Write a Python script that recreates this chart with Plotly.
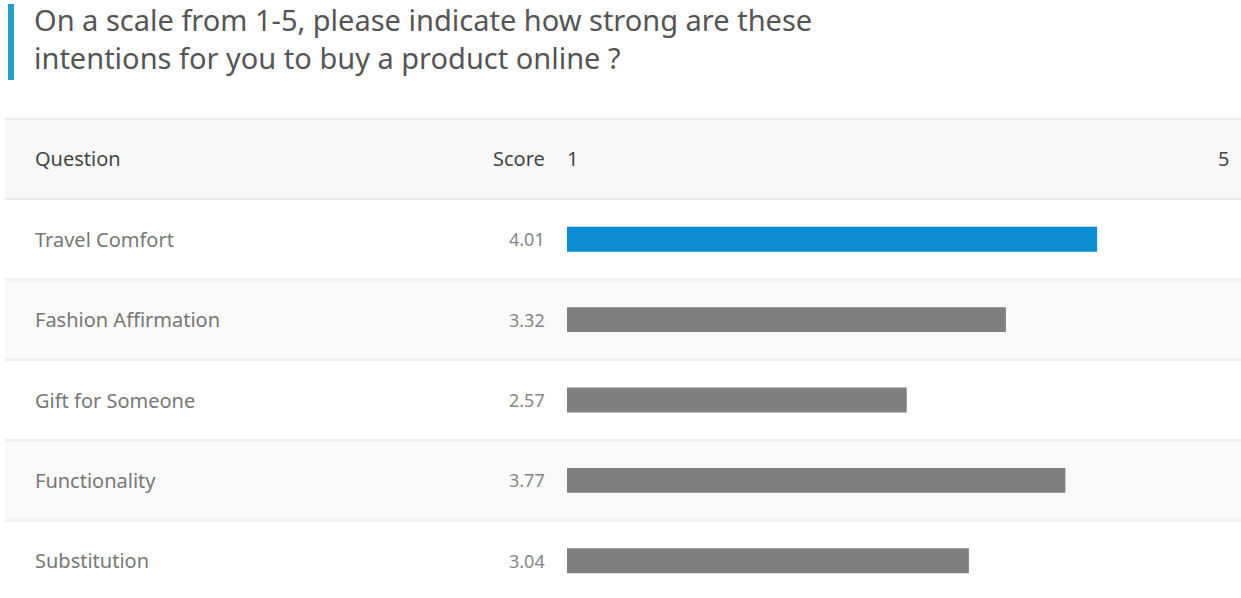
import plotly.graph_objects as go

# Survey results: intention strength on a 1-5 scale
questions = ["Travel Comfort", "Fashion Affirmation", "Gift for Someone",
             "Functionality", "Substitution"]
scores = [4.01, 3.32, 2.57, 3.77, 3.04]
score_labels = ["4.01", "3.32", "2.57", "3.77", "3.04"]
scale_ticks = ["1", "5"]

title_lines = ["On a scale from 1-5, please indicate how strong are these",
               "intentions for you to buy a product online ?"]

W, H = 1241, 598
FONT = "Noto Sans"
BLUE = "#0a8dd3"
GREY = "#7f7f7f"

def py(px):
    """Convert a pixel row (from top) to paper y."""
    return max(0.0, min(1.0, 1 - px / H))

def px_x(px):
    return px / W

colors = [BLUE] + [GREY] * (len(questions) - 1)

fig = go.Figure(go.Bar(
    x=scores, y=questions, orientation="h",
    marker=dict(color=colors, line=dict(width=0)),
    width=0.31, hoverinfo="x+y",
))

row_top = 199
row_h = 80.4
n = len(questions)

shapes = []
# header band
shapes.append(dict(type="rect", xref="paper", yref="paper",
                   x0=px_x(5), x1=1, y0=py(row_top), y1=py(119),
                   fillcolor="#f8f8f8", line=dict(width=0), layer="below"))
# alternating row bands
for i in range(n):
    if i % 2 == 1:
        shapes.append(dict(type="rect", xref="paper", yref="paper",
                           x0=px_x(5), x1=1,
                           y0=py(row_top + (i + 1) * row_h), y1=py(row_top + i * row_h),
                           fillcolor="#f9f9f9", line=dict(width=0), layer="below"))
# separators
sep_rows = [119] + [row_top + k * row_h for k in range(n)]
for r in sep_rows:
    y = py(r)
    shapes.append(dict(type="line", xref="paper", yref="paper",
                       x0=px_x(5), x1=1, y0=y, y1=y,
                       line=dict(color="#ebebeb", width=2), layer="below"))
# accent bar beside title
shapes.append(dict(type="rect", xref="paper", yref="paper",
                   x0=px_x(8), x1=px_x(14), y0=py(80), y1=py(4),
                   fillcolor="#1e9fd4", line=dict(width=0)))

annotations = []
# title (two lines in one text block)
annotations.append(dict(text="<br>".join(title_lines), xref="paper", yref="paper",
                        x=px_x(32), y=py(39), xanchor="left", yanchor="middle", align="left",
                        showarrow=False, font=dict(family=FONT, size=29, color="#555555")))
# header labels
header_y = py(158)
hdr_font = dict(family=FONT, size=20, color="#454545")
annotations.append(dict(text="Question", xref="paper", yref="paper", x=px_x(33), y=header_y,
                        xanchor="left", yanchor="middle", showarrow=False, font=hdr_font))
annotations.append(dict(text="Score", xref="paper", yref="paper", x=px_x(547), y=header_y,
                        xanchor="right", yanchor="middle", showarrow=False, font=hdr_font))
annotations.append(dict(text=scale_ticks[0], xref="paper", yref="paper", x=px_x(565), y=header_y,
                        xanchor="left", yanchor="middle", showarrow=False, font=hdr_font))
annotations.append(dict(text=scale_ticks[1], xref="paper", yref="paper", x=px_x(1231), y=header_y,
                        xanchor="right", yanchor="middle", showarrow=False, font=hdr_font))
# row labels and scores
for q, s in zip(questions, score_labels):
    annotations.append(dict(text=q, xref="paper", yref="y", x=px_x(33), y=q,
                            xanchor="left", yanchor="middle", showarrow=False,
                            font=dict(family=FONT, size=20, color="#777777")))
    annotations.append(dict(text=s, xref="paper", yref="y", x=px_x(547), y=q,
                            xanchor="right", yanchor="middle", showarrow=False,
                            font=dict(family=FONT, size=18, color="#858585")))

# the plot area is clipped at the page bottom; extend the category range to keep row spacing
visible_rows = (H - row_top) / row_h
fig.update_layout(
    width=W, height=H,
    margin=dict(l=0, r=0, t=0, b=0),
    paper_bgcolor="white", plot_bgcolor="rgba(0,0,0,0)",
    showlegend=False,
    xaxis=dict(domain=[px_x(567), px_x(1228)], range=[0, 5], visible=False, fixedrange=True),
    yaxis=dict(domain=[0, py(row_top)],
               categoryorder="array", categoryarray=questions,
               range=[visible_rows - 0.5, -0.5], visible=False, fixedrange=True),
    shapes=shapes, annotations=annotations,
)

fig.write_html("out.html")
